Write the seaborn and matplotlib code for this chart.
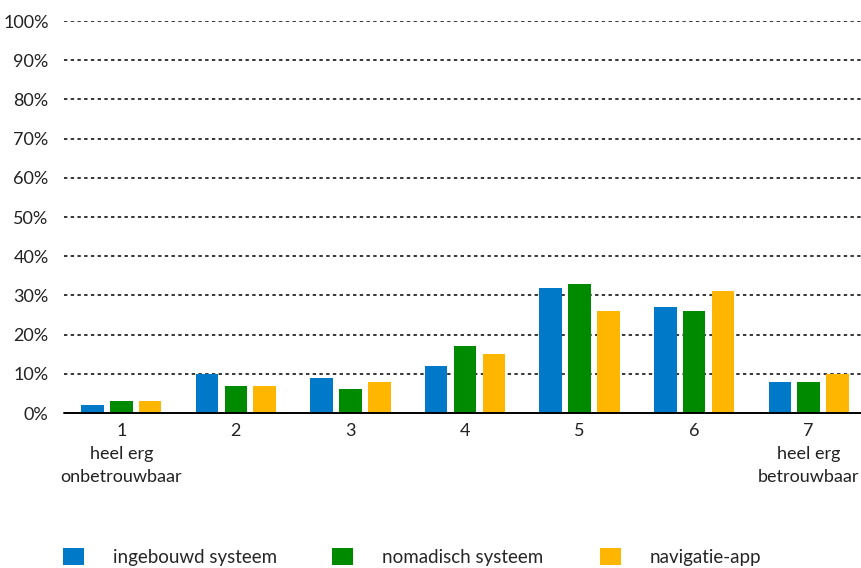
import matplotlib
matplotlib.use("Agg")
import matplotlib.pyplot as plt
from matplotlib.patches import Patch
import seaborn as sns
import pandas as pd

categories = ["1\nheel erg\nonbetrouwbaar", "2", "3", "4", "5", "6", "7\nheel erg\nbetrouwbaar"]
series_names = ["ingebouwd systeem", "nomadisch systeem", "navigatie-app"]
ingebouwd = [2, 10, 9, 12, 32, 27, 8]
nomadisch = [3, 7, 6, 17, 33, 26, 8]
navigatie = [3, 7, 8, 15, 26, 31, 10]
y_ticks = [0, 10, 20, 30, 40, 50, 60, 70, 80, 90, 100]
colors = ["#0079C8", "#008A00", "#FFB600"]

rows = []
for name, vals in zip(series_names, [ingebouwd, nomadisch, navigatie]):
    for cat, v in zip(categories, vals):
        rows.append({"categorie": cat, "waarde": v, "systeem": name})
df = pd.DataFrame(rows)

sns.set_theme(style="white")
plt.rcParams["font.family"] = ["Lato", "DejaVu Sans"]

fig = plt.figure(figsize=(8.61, 5.68), dpi=100)
ax = fig.add_axes([64 / 861, 1 - 413 / 568, (866 - 64) / 861, (413 - 21) / 568])

sns.barplot(data=df, x="categorie", y="waarde", hue="systeem", order=categories,
            hue_order=series_names, palette=colors, width=0.757, gap=0.22,
            saturation=1, legend=False, linewidth=0, ax=ax, zorder=3)

ax.set_xlim(-0.5, 6.5)
ax.set_ylim(0, 100)
ax.set_yticks(y_ticks)
ax.set_yticklabels([f"{t}%" for t in y_ticks], fontsize=13, color="#222222")
ax.tick_params(axis="x", labelsize=13, colors="#222222", length=0, pad=7)
ax.tick_params(axis="y", length=0, pad=11)
ax.set_xlabel("")
ax.set_ylabel("")
for lbl in ax.get_xticklabels():
    lbl.set_linespacing(1.55)
    lbl.set_color("#222222")

for t in y_ticks[1:]:
    ax.axhline(t, color="black", lw=1.1, ls=(0, (2.2, 2.2)), zorder=1)
ax.axhline(0, color="black", lw=1.4, zorder=4, clip_on=False)

for s in ax.spines.values():
    s.set_visible(False)

# one legend entry per series, spaced evenly along the bottom
for c, name, x0 in zip(colors, series_names, [63, 332, 600]):
    fig.legend([Patch(facecolor=c, edgecolor="none")], [name], loc="center left",
               bbox_to_anchor=(x0 / 861, 1 - 557 / 568), frameon=False, fontsize=13.5,
               handlelength=1.1, handleheight=1.0, handletextpad=1.55,
               borderaxespad=0, borderpad=0)

fig.savefig("out.png", dpi=100)
